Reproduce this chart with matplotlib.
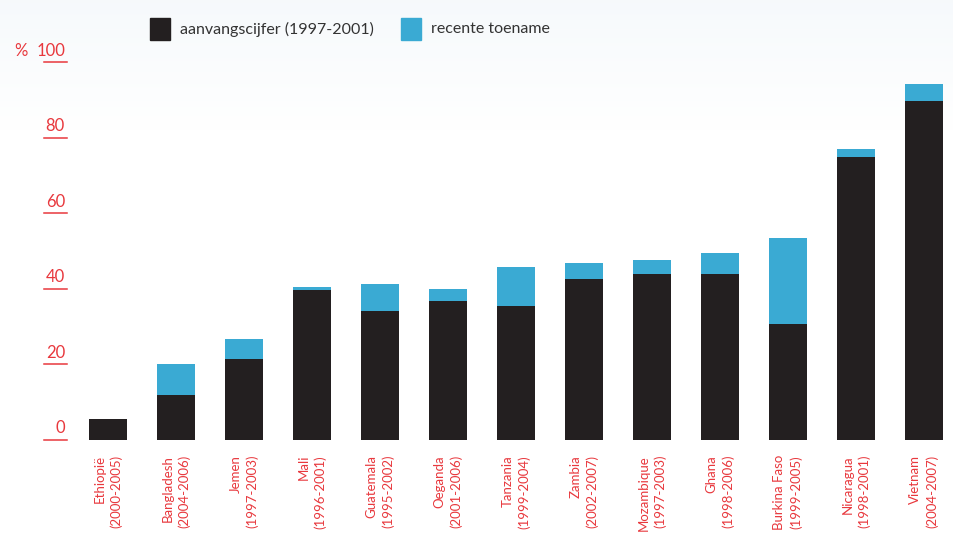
import matplotlib
matplotlib.use("Agg")
import matplotlib.pyplot as plt
import matplotlib.patches as mpatches
import matplotlib.transforms as mtransforms
import numpy as np

countries = ["Ethiopië", "Bangladesh", "Jemen", "Mali", "Guatemala", "Oeganda",
             "Tanzania", "Zambia", "Mozambique", "Ghana", "Burkina Faso",
             "Nicaragua", "Vietnam"]
periods = ["2000-2005", "2004-2006", "1997-2003", "1996-2001", "1995-2002",
           "2001-2006", "1999-2004", "2002-2007", "1997-2003", "1998-2006",
           "1999-2005", "1998-2001", "2004-2007"]
start_rate = [5.6, 12.0, 21.5, 39.8, 34.2, 36.9, 35.5, 42.7, 44.0, 44.0, 30.8, 74.9, 89.8]
increase = [0.0, 8.2, 5.3, 0.8, 7.2, 3.1, 10.4, 4.2, 3.7, 5.6, 22.7, 2.2, 4.5]
yticks = [0, 20, 40, 60, 80, 100]

BLACK = "#231f20"
BLUE = "#3aaad3"
RED = "#e8383d"
TEXT = "#333333"

plt.rcParams["font.family"] = ["Lato", "DejaVu Sans"]

W, H = 954, 533
fig = plt.figure(figsize=(W / 100, H / 100), dpi=100)

# faint bluish wash at the top of the page
bg = fig.add_axes([0, 0, 1, 1], zorder=-5)
grad = np.ones((H, 1, 3))
fade = np.clip(1 - np.arange(H) / 130.0, 0, 1)
tint = np.array([0.965, 0.978, 0.988])
grad[:, 0, :] = 1 - fade[:, None] * (1 - tint)
bg.imshow(grad, aspect="auto", extent=[0, 1, 0, 1])
bg.axis("off")

# axes placed in pixel terms: bar i centred at 108 + 68*i px, 0 at y=440, 100 at y=62
left_px, right_px = 70, 954
y0_px, y100_px = 440, 62.3
ax = fig.add_axes([left_px / W, (H - y0_px) / H, (right_px - left_px) / W, (y0_px - y100_px) / H])
ax.set_xlim((left_px - 108) / 68, (right_px - 108) / 68)
ax.set_ylim(0, 100)
ax.patch.set_alpha(0)

x = np.arange(len(countries))
ax.bar(x, start_rate, width=38 / 68, color=BLACK, zorder=2)
ax.bar(x, increase, width=38 / 68, bottom=start_rate, color=BLUE, zorder=2)

for s in ax.spines.values():
    s.set_visible(False)
ax.set_yticks([])
ax.set_xticks([])

# y tick labels sitting on short red underlines
trans = mtransforms.blended_transform_factory(ax.transAxes, ax.transData)
ax_w = right_px - left_px
for v in yticks:
    ax.plot([(44 - left_px) / ax_w, (67 - left_px) / ax_w], [v, v], color=RED,
            lw=1.1, transform=trans, clip_on=False)
    ax.text((65 - left_px) / ax_w, v + 1.0, str(v), color=RED, fontsize=12,
            ha="right", va="bottom", transform=trans)
ax.text((14 - left_px) / ax_w, 101.0, "%", color=RED, fontsize=12,
        ha="left", va="bottom", transform=trans)

# rotated category labels
for i, (c, p) in enumerate(zip(countries, periods)):
    ax.annotate(f"{c}\n({p})", xy=(i, 0), xytext=(0, -15), textcoords="offset pixels",
                rotation=90, ha="center", va="top", multialignment="right",
                color=RED, fontsize=9.5, linespacing=1.45)

# legend
for px, col, label in [(150, BLACK, "aanvangscijfer (1997-2001)"),
                       (401, BLUE, "recente toename")]:
    fig.patches.append(mpatches.Rectangle((px / W, 1 - 40 / H), 20 / W, 22 / H,
                                          transform=fig.transFigure, color=col))
    fig.text((px + 30) / W, 1 - 29 / H, label, color=TEXT, fontsize=11.5,
             ha="left", va="center")

fig.savefig("out.png", dpi=100)
